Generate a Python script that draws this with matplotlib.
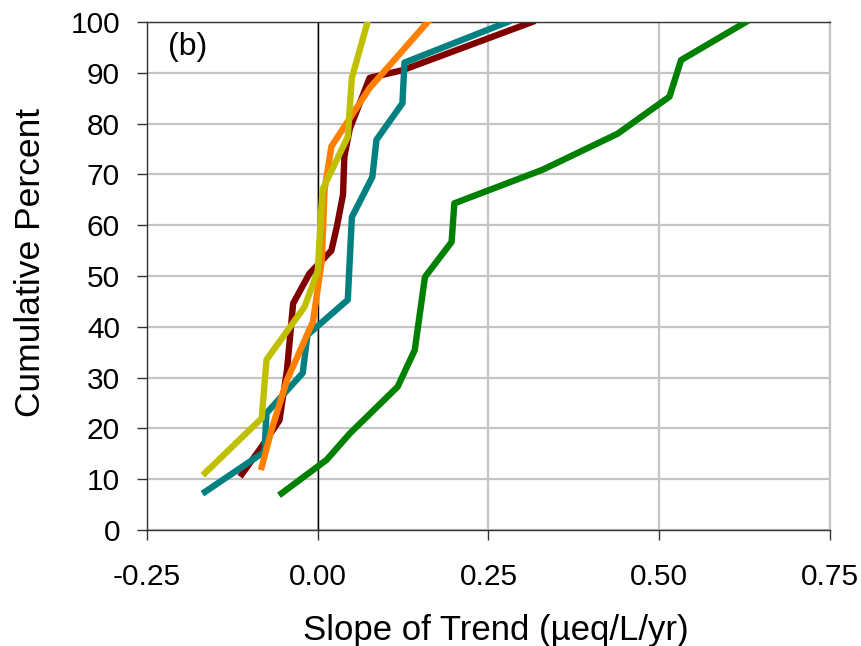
"""Cumulative distribution of trend slopes, panel (b)."""
import matplotlib
matplotlib.use("Agg")
import matplotlib.pyplot as plt

plt.rcParams["font.family"] = ["Liberation Sans", "DejaVu Sans"]

# Slope (ueq/L/yr) vs cumulative percent for each site group.
RED_X = [-0.111, -0.082, -0.056, -0.045, -0.036, -0.012, 0.020, 0.028, 0.037, 0.039, 0.047, 0.076, 0.124, 0.314]
RED_Y = [11.0, 16.4, 21.6, 31.5, 44.6, 50.5, 55.0, 59.7, 66.0, 73.5, 79.0, 89.0, 90.5, 100.0]

ORANGE_X = [-0.082, -0.067, -0.045, -0.007, 0.006, 0.010, 0.020, 0.076, 0.161]
ORANGE_Y = [12.4, 20.0, 29.5, 41.0, 53.0, 67.0, 75.5, 87.0, 100.0]

YELLOW_X = [-0.165, -0.082, -0.075, -0.019, 0.000, 0.007, 0.044, 0.050, 0.073]
YELLOW_Y = [11.2, 22.0, 33.5, 44.0, 51.0, 67.0, 77.4, 89.0, 100.0]

TEAL_X = [-0.165, -0.078, -0.075, -0.022, -0.015, 0.044, 0.050, 0.080, 0.086, 0.124, 0.127, 0.278]
TEAL_Y = [7.5, 15.4, 23.0, 30.9, 38.4, 45.3, 61.6, 69.5, 76.8, 84.0, 92.0, 100.0]

GREEN_X = [-0.053, 0.013, 0.047, 0.117, 0.142, 0.157, 0.196, 0.200, 0.329, 0.439, 0.515, 0.532, 0.627]
GREEN_Y = [7.2, 13.8, 19.0, 28.2, 35.4, 49.8, 56.7, 64.3, 70.9, 78.0, 85.3, 92.5, 100.0]

X_TICKS = [-0.25, 0.0, 0.25, 0.5, 0.75]
Y_TICKS = list(range(0, 101, 10))

fig = plt.figure(figsize=(8.61, 6.46), dpi=100)
ax = fig.add_axes([0.1707, 0.1796, 0.7933, 0.7864])

ax.set_xlim(-0.25, 0.75)
ax.set_ylim(0, 100)
ax.set_xticks(X_TICKS)
ax.set_xticklabels([f"{t:.2f}" for t in X_TICKS])
ax.set_yticks(Y_TICKS)

ax.grid(True, color="#c4c4c4", lw=1.6, zorder=0)
ax.set_axisbelow(True)
ax.axvline(0, color="black", lw=1.0, zorder=1)

lw = 4.6
ax.plot(RED_X, RED_Y, color="#800000", lw=lw, zorder=2)
ax.plot(TEAL_X, TEAL_Y, color="#008080", lw=lw, zorder=3)
ax.plot(ORANGE_X, ORANGE_Y, color="#ff8000", lw=lw, zorder=4)
ax.plot(YELLOW_X, YELLOW_Y, color="#c0c000", lw=lw, zorder=5)
ax.plot(GREEN_X, GREEN_Y, color="#008000", lw=lw, zorder=3)

for side in ("left", "bottom", "top"):
    ax.spines[side].set_color("#333333")
    ax.spines[side].set_linewidth(1.0)
ax.spines["right"].set_color("#c4c4c4")
ax.spines["right"].set_linewidth(1.6)

ax.tick_params(axis="both", direction="out", length=7.5, width=1.0,
               labelsize=21.5, color="#333333")
ax.tick_params(axis="x", pad=16)
ax.tick_params(axis="y", pad=12)

ax.set_xlabel("Slope of Trend (\u00b5eq/L/yr)", fontsize=25)
ax.set_ylabel("Cumulative Percent", fontsize=25.5)
ax.xaxis.set_label_coords(0.51, -0.197)
ax.yaxis.set_label_coords(-0.171, 0.527)
ax.xaxis.label.set_va("center")
ax.yaxis.label.set_va("center")
ax.text(168, 646 - 32, "(b)", transform=None, fontsize=23,
        va="top", ha="left")

fig.savefig("out.png", dpi=100)
